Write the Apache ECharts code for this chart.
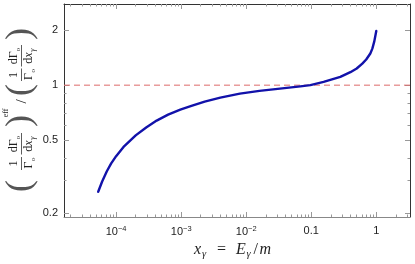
<!DOCTYPE html>
<html>
<head>
<meta charset="utf-8">
<script src="https://cdn.jsdelivr.net/npm/echarts@6/dist/echarts.min.js"></script>
<style>html,body{margin:0;padding:0;background:#fff}#c{width:415px;height:264px}</style>
</head>
<body>
<div id="c"></div>
<script>
// ---- data ----
const xValues = [5.3e-5, 6.1e-5, 7.2e-5, 8.4e-5, 1e-4, 1.3e-4, 2e-4, 2.9e-4, 4.2e-4, 6.3e-4, 9.7e-4, 1.4e-3, 2.3e-3, 4e-3, 8e-3, 0.016, 0.033, 0.068, 0.097, 0.155, 0.28, 0.4, 0.5, 0.61, 0.7, 0.81, 0.87, 0.93, 1];
const ratioValues = [0.261, 0.297, 0.338, 0.373, 0.409, 0.459, 0.531, 0.587, 0.640, 0.690, 0.734, 0.767, 0.812, 0.854, 0.899, 0.931, 0.958, 0.985, 1.0, 1.042, 1.110, 1.178, 1.234, 1.311, 1.382, 1.491, 1.584, 1.730, 1.98];
const referenceLevel = 1;
const xMajorTicks = [1e-4, 1e-3, 1e-2, 0.1, 1];
const xMinorTicks = [];
[-5, -4, -3, -2, -1, 0].forEach(function (e) {
  for (let k = 2; k <= 9; k++) xMinorTicks.push(k * Math.pow(10, e));
});
const yMajorTicks = [0.2, 0.5, 1, 2];
const yMinorTicks = [0.3, 0.4, 0.6, 0.7, 0.8, 0.9];
const xRange = [1.58e-5, 3.3];
const yRange = [0.19, 2.78];

function xLabel(v) {
  const e = Math.round(Math.log10(v));
  if (e === 0) return '1';
  if (e === -1) return '0.1';
  return '10{sup|\u2212' + (-e) + '}';
}

const tickColor = '#999';
function xAxisDef(pos, ticks, len, showLabel, lineShow, lineColor) {
  return {
    type: 'log', logBase: 10, min: xRange[0], max: xRange[1], position: pos,
    axisLine: { show: lineShow, onZero: false, lineStyle: { color: lineColor, width: 1 } },
    axisTick: { show: true, inside: true, length: len, customValues: ticks, lineStyle: { color: tickColor, width: 1 } },
    axisLabel: showLabel ? {
      show: true, customValues: ticks, formatter: xLabel, margin: 8,
      color: '#222', fontFamily: 'Liberation Sans', fontSize: 11,
      rich: { sup: { fontSize: 7.5, fontFamily: 'Liberation Sans', color: '#222', verticalAlign: 'top', padding: [0, 0, 5, 0] } }
    } : { show: false },
    splitLine: { show: false }
  };
}
function yAxisDef(pos, ticks, len, showLabel, lineShow, lineColor) {
  return {
    type: 'log', logBase: 10, min: yRange[0], max: yRange[1], position: pos,
    axisLine: { show: lineShow, onZero: false, lineStyle: { color: lineColor, width: 1 } },
    axisTick: { show: true, inside: true, length: len, customValues: ticks, lineStyle: { color: tickColor, width: 1 } },
    axisLabel: showLabel ? {
      show: true, customValues: ticks, margin: 6,
      formatter: function (v) { return String(Math.round(v * 10) / 10); },
      color: '#222', fontFamily: 'Liberation Sans', fontSize: 11
    } : { show: false },
    splitLine: { show: false }
  };
}

const xAxes = [
  xAxisDef('bottom', xMajorTicks, 5, true, true, '#888'),
  xAxisDef('bottom', xMinorTicks, 2.5, false, false, '#888'),
  xAxisDef('top', xMajorTicks, 5, false, true, '#333'),
  xAxisDef('top', xMinorTicks, 2.5, false, false, '#333')
];
const yAxes = [
  yAxisDef('left', yMajorTicks, 5, true, true, '#333'),
  yAxisDef('left', yMinorTicks, 2.5, false, false, '#333'),
  yAxisDef('right', yMajorTicks, 5, false, true, '#333'),
  yAxisDef('right', yMinorTicks, 2.5, false, false, '#333')
];

// axis titles built from text pieces
const serif = 'Liberation Serif';
function txt(text, u, v, size, opts) {
  return {
    type: 'text', x: u, y: v,
    style: Object.assign({
      text: text, fontFamily: serif, fontSize: size, fill: '#222',
      align: 'center', verticalAlign: 'middle'
    }, opts || {})
  };
}
function bar(u1, u2) {
  return { type: 'line', shape: { x1: u1, y1: 0.5, x2: u2, y2: 0.5 }, style: { stroke: '#333', lineWidth: 0.8 } };
}
const ital = { fontStyle: 'italic' };
function fractionPair(uA, uB, aStart, aEnd, bStart, bEnd) {
  return [
    txt('1', uA, -7, 12),
    txt('\u0393', uA - 1.6, 8, 12), txt('o', uA + 4.2, 12, 7),
    bar(aStart, aEnd),
    txt('d\u0393', uB - 1.8, -7, 12), txt('o', uB + 6.6, -3, 7),
    txt('d', uB - 4.8, 8, 12), txt('x', uB + 0.8, 8, 12, ital), txt('\u03b3', uB + 5.8, 12, 8, ital),
    bar(bStart, bEnd)
  ];
}
const parenStyle = { fill: '#555' };
const yNameChildren = [].concat(
  [txt('(', 12, 0, 36, parenStyle)],
  fractionPair(34.5, 54, 28, 41, 43.5, 65),
  [txt(')', 77, 0, 36, parenStyle)],
  [txt('eff', 85, -15.5, 8)],
  [txt('/', 96.5, 1, 15)],
  [txt('(', 108, 0, 36, parenStyle)],
  fractionPair(123, 142, 117, 129.5, 131.5, 153),
  [txt(')', 164, 0, 36, parenStyle)]
);
const left = { align: 'left' };
const itl = { fontStyle: 'italic', align: 'left' };
const xNameChildren = [
  txt('x', 194, 0, 16, itl),
  txt('\u03b3', 202, 4, 10.5, itl),
  txt('=', 217, 0, 16, left),
  txt('E', 236, 0, 16, itl),
  txt('\u03b3', 246.5, 4, 10.5, itl),
  txt('/', 253.5, 0, 16, left),
  txt('m', 259.5, 0, 16, itl)
];

const chart = echarts.init(document.getElementById('c'), null, { renderer: 'canvas' });
chart.setOption({
  animation: false,
  backgroundColor: '#fff',
  grid: { left: 64, right: 5, top: 4, bottom: 47, containLabel: false },
  xAxis: xAxes,
  yAxis: yAxes,
  graphic: [{
    type: 'group', x: 21, y: 198, rotation: Math.PI / 2,
    children: yNameChildren
  }, {
    type: 'group', x: 0, y: 250,
    children: xNameChildren
  }],
  series: [{
    type: 'line', xAxisIndex: 0, yAxisIndex: 0,
    data: xRange.map(function (x) { return [x, referenceLevel]; }),
    showSymbol: false, symbol: 'none', silent: true,
    lineStyle: { color: '#dc6a6a', type: [6, 4], width: 1 },
    z: 2
  }, {
    type: 'line', xAxisIndex: 0, yAxisIndex: 0,
    data: xValues.map(function (x, i) { return [x, ratioValues[i]]; }),
    smooth: false, showSymbol: false, symbol: 'none',
    lineStyle: { color: '#1212aa', width: 2.4, join: 'round', cap: 'round' },
    z: 3
  }]
});
</script>
</body>
</html>
